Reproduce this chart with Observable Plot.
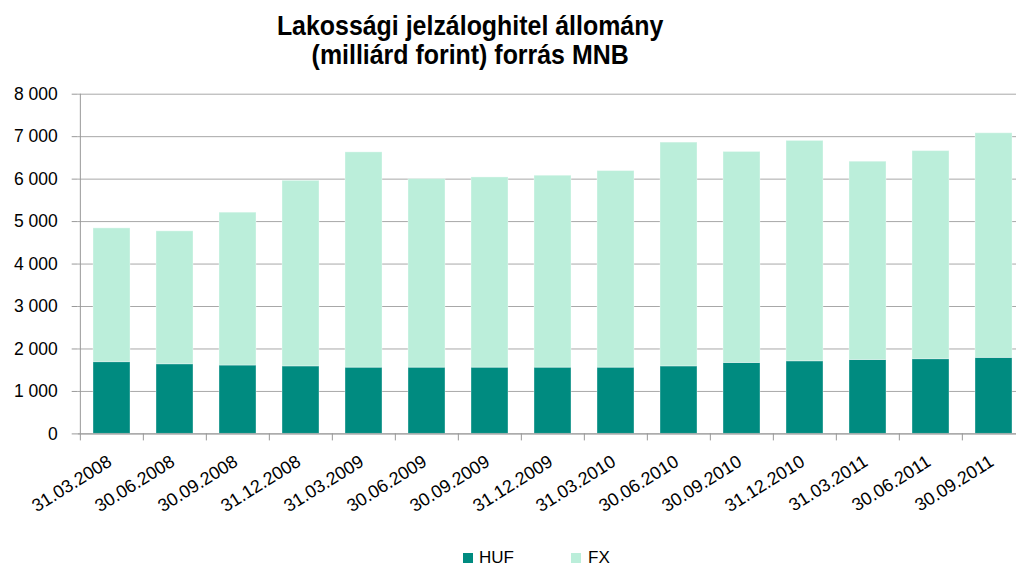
<!DOCTYPE html>
<html>
<head>
<meta charset="utf-8">
<script src="https://cdn.jsdelivr.net/npm/d3@7"></script>
<script src="https://cdn.jsdelivr.net/npm/@observablehq/plot@0.6"></script>
<style>
  html, body { margin: 0; padding: 0; background: #fff; overflow: hidden; }
  body { width: 1016px; height: 569px; font-family: "Liberation Sans", Arial, sans-serif; }
  #title { height: 85px; width: 940px; text-align: center; font-weight: bold; font-size: 30.5px; line-height: 29px; padding-top: 11px; box-sizing: border-box; color: #000; white-space: nowrap; }
  #title .ln { display: inline-block; }
  #legend { position: relative; height: 34px; width: 1016px; }
  .lg-sw { position: absolute; width: 10px; height: 10px; top: 18px; }
  .lg-tx { position: absolute; top: 13px; font-size: 17px; line-height: 20px; color: #000; }
</style>
</head>
<body>
<div id="title"><span class="ln">Lakossági jelzáloghitel állomány</span><br><span class="ln">(milliárd forint) forrás MNB</span></div>
<div id="chart"></div>
<div id="legend">
  <div class="lg-sw" style="left:463px;background:#008B80"></div><div class="lg-tx" style="left:479px">HUF</div>
  <div class="lg-sw" style="left:571px;background:#BBEEDA"></div><div class="lg-tx" style="left:588px">FX</div>
</div>
<script>
const dates = ["31.03.2008","30.06.2008","30.09.2008","31.12.2008","31.03.2009","30.06.2009","30.09.2009","31.12.2009","31.03.2010","30.06.2010","30.09.2010","31.12.2010","31.03.2011","30.06.2011","30.09.2011"];
const huf = [1690,1640,1610,1590,1560,1560,1560,1560,1560,1590,1670,1710,1740,1760,1790];
const fx  = [3150,3130,3600,4370,5070,4440,4480,4520,4630,5270,4970,5190,4670,4900,5290];
const yTicks = [0,1000,2000,3000,4000,5000,6000,7000,8000];
const series = ["HUF","FX"];
const colors = ["#008B80","#BBEEDA"];

// Narrow font detection for the title
(function(){
  const c = document.createElement("canvas").getContext("2d");
  const s = "Lakossági jelzáloghitel állomány";
  c.font = "bold 28px monospace"; const w0 = c.measureText(s).width;
  c.font = "bold 28px 'Liberation Sans Narrow', monospace"; const w1 = c.measureText(s).width;
  const title = document.getElementById("title");
  if (Math.abs(w0 - w1) > 1) {
    title.style.fontFamily = "'Liberation Sans Narrow', 'Arial Narrow', sans-serif";
  } else {
    title.style.fontFamily = "'Liberation Sans', Arial, sans-serif";
    title.style.fontSize = "28px";
    title.querySelectorAll(".ln").forEach(el => { el.style.transform = "scaleX(0.89)"; el.style.transformOrigin = "center"; });
  }
})();

const rows = [];
dates.forEach((d, i) => {
  rows.push({date: d, series: "HUF", value: huf[i]});
  rows.push({date: d, series: "FX", value: fx[i]});
});

const x0 = 77.7, x1 = 1027.2;
const step = (x1 - x0) / dates.length;
const fmt = v => d3.format(",")(v).replace(/,/g, "\u00a0");

const chart = Plot.plot({
  width: 1016,
  height: 450,
  marginTop: 8.7,
  marginBottom: 101.6,
  marginLeft: x0,
  marginRight: 0,
  style: {fontFamily: "'Liberation Sans', Arial, sans-serif", fontSize: "17.5px", color: "#000", overflow: "visible"},
  x: {type: "band", domain: dates, range: [x0, x1], paddingInner: 0.415, paddingOuter: 0.2075},
  y: {domain: [0, 8000]},
  color: {domain: series, range: colors},
  marks: [
    Plot.gridY(yTicks, {stroke: "#A8A8A8", strokeOpacity: 1, strokeWidth: 1}),
    Plot.barY(rows, Plot.stackY({x: "date", y: "value", fill: "series", order: series, stroke: "#ffffff", strokeOpacity: 0.35, strokeWidth: 1})),
    Plot.ruleY([0], {stroke: "#999"}),
    Plot.ruleX([dates[0]], {x: d => d, dx: -step / 2, y1: 0, y2: 8000, stroke: "#999"}),
    Plot.ruleX(dates, {x: d => d, dx: -step / 2, y1: 0, y2: -165, stroke: "#999"}),
    Plot.axisY(yTicks, {tickSize: 6, tickPadding: 14.5, tickFormat: fmt, stroke: "#999", fontSize: "17.5px", fill: "#000", label: null}),
    Plot.axisX({tickSize: 0, tickPadding: 26, tickRotate: -32, dx: -2, fontSize: "18px", fill: "#000", label: null})
  ]
});
document.getElementById("chart").appendChild(chart);
</script>
</body>
</html>
